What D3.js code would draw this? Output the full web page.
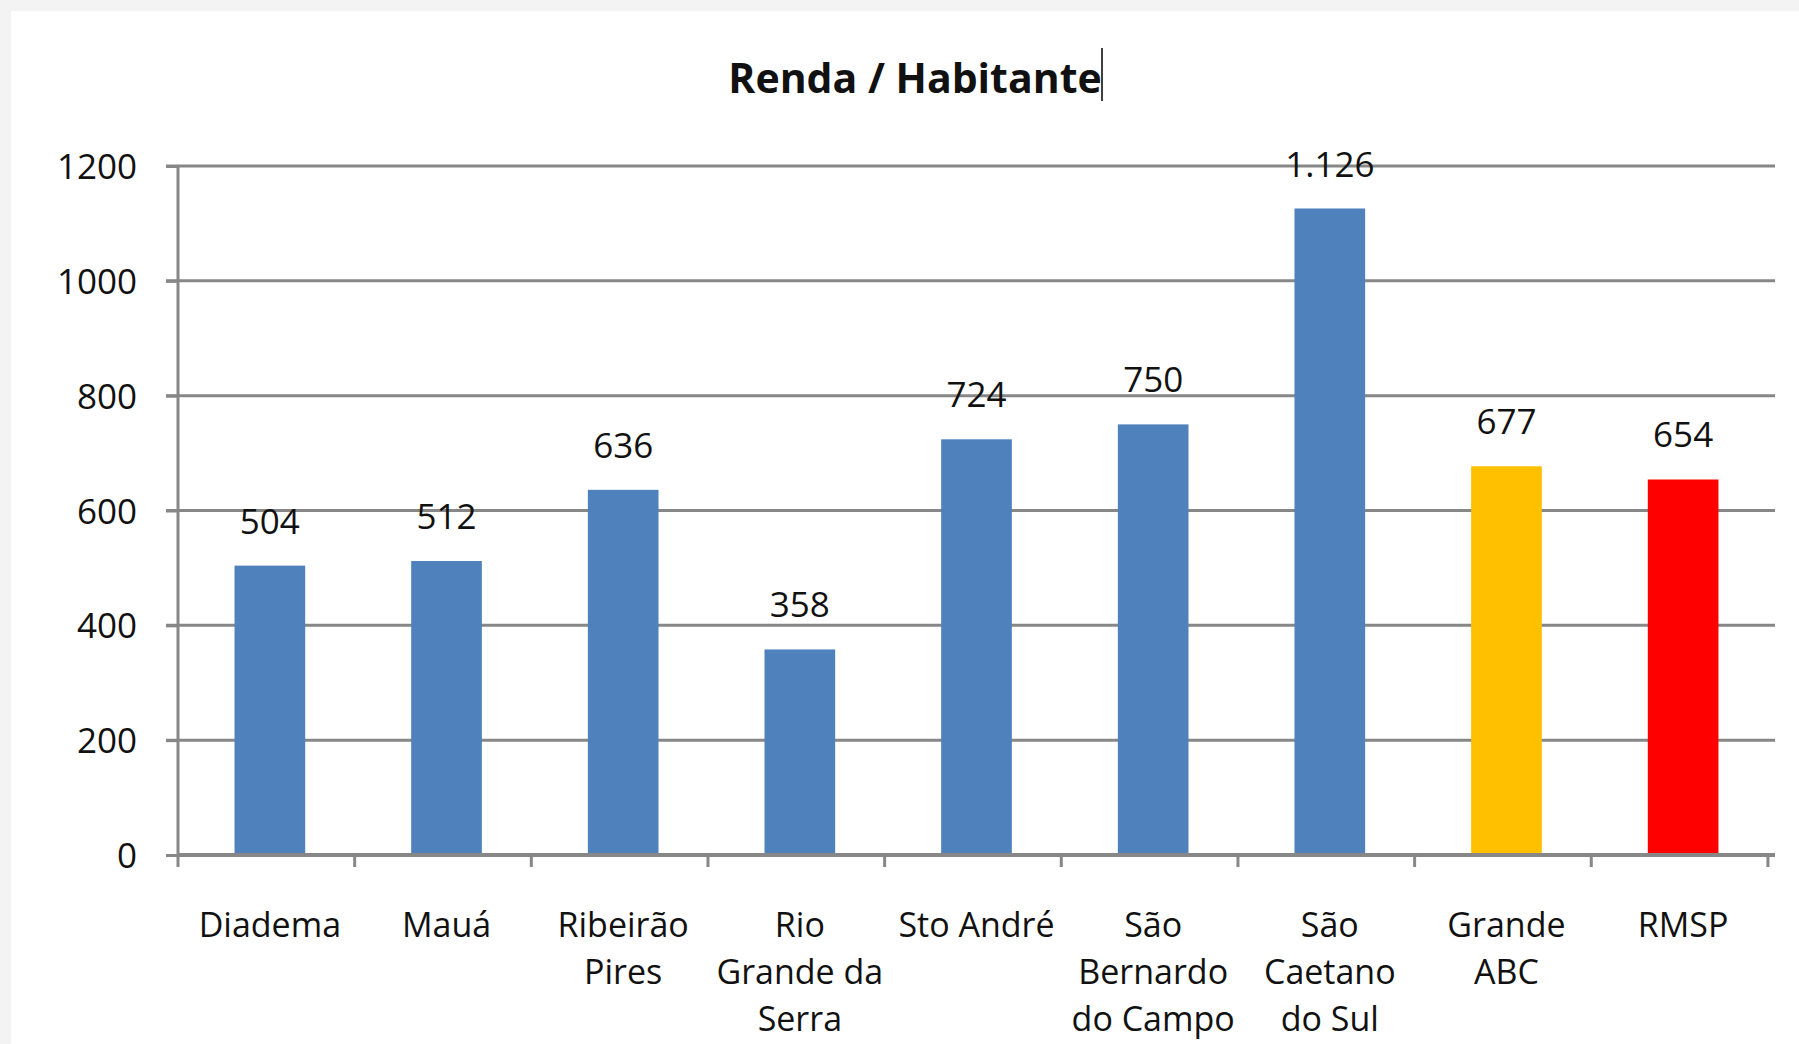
<!DOCTYPE html>
<html>
<head>
<meta charset="utf-8">
<script src="https://cdn.jsdelivr.net/npm/d3@7"></script>
<style>
  html, body { margin: 0; padding: 0; background: #f3f3f3; }
  #chart { position: absolute; left: 11px; top: 11px; }
  text { font-family: "Open Sans", sans-serif; fill: #111; }
</style>
</head>
<body>
<div id="chart"></div>
<script>
// Data
var categories = ["Diadema", "Mauá", "Ribeirão Pires", "Rio Grande da Serra", "Sto André",
                  "São Bernardo do Campo", "São Caetano do Sul", "Grande ABC", "RMSP"];
var labelLines = [["Diadema"], ["Mauá"], ["Ribeirão", "Pires"], ["Rio", "Grande da", "Serra"],
                  ["Sto André"], ["São", "Bernardo", "do Campo"], ["São", "Caetano", "do Sul"],
                  ["Grande", "ABC"], ["RMSP"]];
var values = [504, 512, 636, 358, 724, 750, 1126, 677, 654];
var valueLabels = ["504", "512", "636", "358", "724", "750", "1.126", "677", "654"];
var barColors = ["#4f81bd", "#4f81bd", "#4f81bd", "#4f81bd", "#4f81bd",
                 "#4f81bd", "#4f81bd", "#ffc000", "#ff0000"];
var yTicks = [0, 200, 400, 600, 800, 1000, 1200];

function setUpChart() {
  var svgWidth = 1788;
  var svgHeight = 1033;

  // plot area sits at page coords 178..1775 x 166..855
  var margin = { top: 155, right: 24, bottom: 189, left: 167 };
  var width = svgWidth - margin.left - margin.right;
  var height = svgHeight - margin.top - margin.bottom;

  var svg = d3.select("#chart")
    .append("svg")
    .attr("width", svgWidth)
    .attr("height", svgHeight)
    .style("background", "#ffffff");

  // title
  svg.append("text")
    .attr("x", 904)
    .attr("y", 82)
    .attr("text-anchor", "middle")
    .attr("font-size", "41px")
    .attr("font-weight", "bold")
    .text("Renda / Habitante");

  // text cursor after the title
  svg.append("line")
    .attr("x1", 1091).attr("x2", 1091)
    .attr("y1", 37).attr("y2", 90)
    .attr("stroke", "#000")
    .attr("stroke-width", 1.5);

  var chartGroup = svg.append("g")
    .attr("transform", `translate(${margin.left}, ${margin.top})`);

  var xScale = d3.scaleBand()
    .domain(categories)
    .range([0, width])
    .paddingInner(0.6)
    .paddingOuter(0.32);

  var yScale = d3.scaleLinear()
    .domain([0, 1200])
    .range([height, 0]);

  // gridlines
  chartGroup.append("g")
    .selectAll("line")
    .data(yTicks.filter(d => d > 0))
    .enter()
    .append("line")
    .attr("x1", -12)
    .attr("x2", width)
    .attr("y1", d => yScale(d))
    .attr("y2", d => yScale(d))
    .attr("stroke", "#878787")
    .attr("stroke-width", 3);

  // y axis
  var leftAxis = d3.axisLeft(yScale)
    .tickValues(yTicks)
    .tickFormat(d3.format("d"))
    .tickSize(12)
    .tickPadding(29);

  var yAxisG = chartGroup.append("g").call(leftAxis);
  yAxisG.select(".domain").remove();
  yAxisG.selectAll(".tick line").attr("stroke", "#878787").attr("stroke-width", 3);
  yAxisG.selectAll(".tick text")
    .attr("font-size", "35px")
    .attr("fill", "#111")
    .attr("dy", "0.36em");

  chartGroup.append("line")
    .attr("x1", 0).attr("x2", 0)
    .attr("y1", 0).attr("y2", height)
    .attr("stroke", "#878787")
    .attr("stroke-width", 3);

  // bars
  chartGroup.selectAll("rect.bar")
    .data(values)
    .enter()
    .append("rect")
    .attr("class", "bar")
    .attr("x", (d, i) => xScale(categories[i]))
    .attr("y", d => yScale(d))
    .attr("width", xScale.bandwidth())
    .attr("height", d => height - yScale(d))
    .attr("fill", (d, i) => barColors[i]);

  // value labels
  chartGroup.selectAll("text.value")
    .data(values)
    .enter()
    .append("text")
    .attr("class", "value")
    .attr("x", (d, i) => xScale(categories[i]) + xScale.bandwidth() / 2)
    .attr("y", d => yScale(d) - 32)
    .attr("text-anchor", "middle")
    .attr("font-size", "35px")
    .text((d, i) => valueLabels[i]);

  // x axis line and boundary ticks
  chartGroup.append("line")
    .attr("x1", 0).attr("x2", width)
    .attr("y1", height).attr("y2", height)
    .attr("stroke", "#878787")
    .attr("stroke-width", 4);

  chartGroup.append("g")
    .selectAll("line")
    .data(d3.range(categories.length + 1))
    .enter()
    .append("line")
    .attr("x1", i => i * xScale.step())
    .attr("x2", i => i * xScale.step())
    .attr("y1", height)
    .attr("y2", height + 12)
    .attr("stroke", "#878787")
    .attr("stroke-width", 3);

  // category labels
  var catText = chartGroup.selectAll("text.cat")
    .data(labelLines)
    .enter()
    .append("text")
    .attr("class", "cat")
    .attr("text-anchor", "middle")
    .attr("font-size", "34px")
    .attr("transform", (d, i) => `translate(${xScale(categories[i]) + xScale.bandwidth() / 2}, ${height + 82})`);

  catText.selectAll("tspan")
    .data(d => d)
    .enter()
    .append("tspan")
    .attr("x", 0)
    .attr("y", (d, j) => j * 47)
    .text(d => d);
}

setUpChart();
</script>
</body>
</html>
